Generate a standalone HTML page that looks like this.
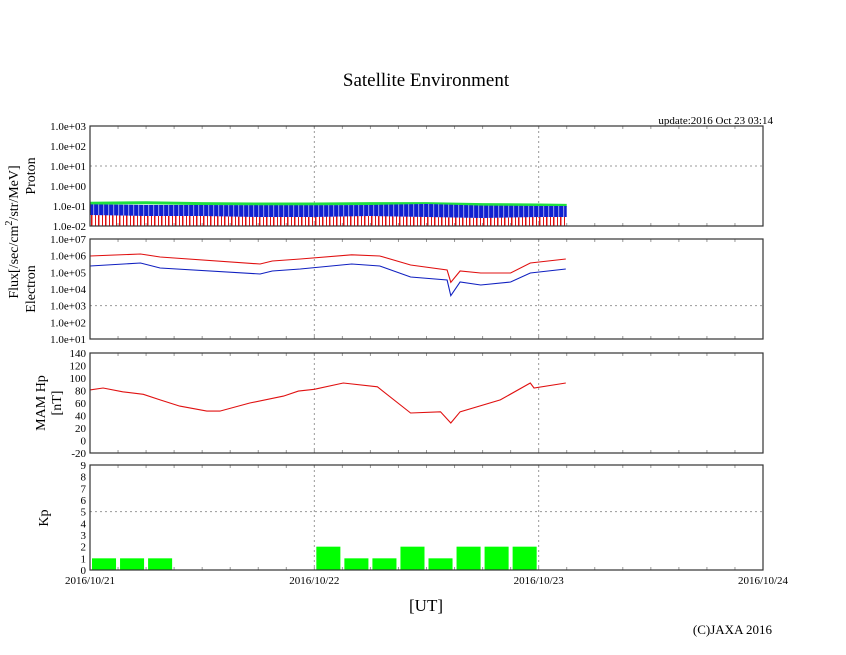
<!DOCTYPE html>
<html><head><meta charset="utf-8"><style>
body{margin:0;background:#fff;}
svg{display:block;font-family:"Liberation Serif",serif;}
</style></head><body>
<svg id="chart" width="846" height="655" viewBox="0 0 846 655">
<text x="426" y="86" font-size="19" text-anchor="middle">Satellite Environment</text>
<text x="773" y="124" font-size="11" text-anchor="end">update:2016 Oct 23 03:14</text>
<text x="426" y="611" font-size="17" text-anchor="middle">[UT]</text>
<text x="772" y="634" font-size="13" text-anchor="end">(C)JAXA 2016</text>
<text transform="translate(18,232) rotate(-90)" font-size="14" text-anchor="middle">Flux[/sec/cm<tspan font-size="10" dy="-6">2</tspan><tspan dy="6">/str/MeV]</tspan></text>
<text transform="translate(35,176) rotate(-90)" font-size="14" text-anchor="middle">Proton</text>
<text transform="translate(35,289) rotate(-90)" font-size="14" text-anchor="middle">Electron</text>
<text transform="translate(45,403) rotate(-90)" font-size="14" text-anchor="middle">MAM Hp</text>
<text transform="translate(61,403) rotate(-90)" font-size="14" text-anchor="middle">[nT]</text>
<text transform="translate(48,518) rotate(-90)" font-size="14" text-anchor="middle">Kp</text>
<g id="g"></g>
</svg>
<script>
// ---- data ----
const dayLabels = ["2016/10/21","2016/10/22","2016/10/23","2016/10/24"];
const protonTicks = ["1.0e-02","1.0e-01","1.0e+00","1.0e+01","1.0e+02","1.0e+03"];
const electronTicks = ["1.0e+01","1.0e+02","1.0e+03","1.0e+04","1.0e+05","1.0e+06","1.0e+07"];
const mamTicks = [-20,0,20,40,60,80,100,120,140];
const kpTicks = [0,1,2,3,4,5,6,7,8,9];
// proton envelopes (log10), hours
const protonHours = [0,6,12,18,24,30,36,42,48,51.0];
const protonGreen = [-0.86,-0.84,-0.88,-0.9,-0.9,-0.88,-0.88,-0.93,-0.95,-0.97];
const protonBlueTop = [-0.92,-0.95,-0.95,-0.96,-0.96,-0.95,-0.9,-0.98,-1.0,-1.0];
const protonBlueBot = [-1.45,-1.5,-1.5,-1.55,-1.55,-1.5,-1.55,-1.6,-1.55,-1.55];
const protonRedTop = [-1.35,-1.4,-1.4,-1.45,-1.45,-1.45,-1.4,-1.45,-1.45,-1.45];
// electron (log10)
const elHours = [0,5.4,7.5,18.2,19.5,22.5,28,31,34.3,38.2,38.6,39.6,41.8,45,47.1,50.9];
const elRed = [5.98,6.1,5.92,5.5,5.68,5.8,6.05,5.98,5.44,5.14,4.4,5.08,4.96,4.96,5.56,5.8];
const elBlue = [5.38,5.56,5.26,4.9,5.08,5.2,5.5,5.38,4.72,4.54,3.6,4.42,4.24,4.42,4.96,5.2];
// MAM Hp (nT)
const mamHours = [0,1.4,3.5,5.7,7.5,9.6,12.5,13.9,17.1,20.7,22.3,24,27.1,30.75,34.3,37.5,38.6,39.6,43.9,47.1,47.5,50.9];
const mamVals = [81,84,78,74,65,55,47,47,60,71,79,82,92,86,44,46,28,46,65,92,84,92];
// Kp, 3-hour bins starting at 10/21 00UT (null = missing)
const kpVals = [1,1,1,null,null,null,null,null,2,1,1,2,1,2,2,2];

const g = document.getElementById('g');
const NS = "http://www.w3.org/2000/svg";
const X0 = 90, X1 = 763;
const x = h => X0 + h * (X1 - X0) / 72;
function el(tag, attrs){ const e = document.createElementNS(NS, tag); for (const k in attrs) e.setAttribute(k, attrs[k]); g.appendChild(e); return e; }
const panels = [
  {name:"proton", top:126, bot:226, min:-2, max:3},
  {name:"electron", top:239, bot:339, min:1, max:7},
  {name:"mam", top:353, bot:453, min:-20, max:140},
  {name:"kp", top:465, bot:570, min:0, max:9}
];
function yf(p){ return v => p.bot - (v - p.min) * (p.bot - p.top) / (p.max - p.min); }
function frame(p, ticks, labels, gridVal){
  const y = yf(p);
  [1,2].forEach(d=>{ const l = el('line',{x1:x(d*24),x2:x(d*24),y1:p.top,y2:p.bot,stroke:'#999','stroke-dasharray':'2,3'});
    
     });
  if (gridVal!==null){ const l = el('line',{x1:X0,x2:X1,y1:y(gridVal),y2:y(gridVal),stroke:'#999','stroke-dasharray':'2,3'});
    
     }
  for (let h=3; h<72; h+=3){ el('line',{x1:x(h),x2:x(h),y1:p.top,y2:p.top+3,stroke:'#999'}); el('line',{x1:x(h),x2:x(h),y1:p.bot,y2:p.bot-3,stroke:'#999'}); }
  ticks.forEach((v,i)=>{ const t = el('text',{x:X0-4,y:y(v)+4,'font-size':11,'text-anchor':'end'}); t.textContent = labels[i];
    
     });
}
function outline(p){ const r = el('rect',{x:X0,y:p.top,width:X1-X0,height:p.bot-p.top,fill:'none',stroke:'#333','stroke-width':1.2});
  
   }
function pathOf(hs, vs, y){ return hs.map((h,i)=>(i?'L':'M')+x(h).toFixed(1)+','+y(vs[i]).toFixed(1)).join(''); }

// proton
let p = panels[0], y = yf(p);
frame(p, [-2,-1,0,1,2,3], protonTicks, 1);
let defs = document.createElementNS(NS,'defs');
defs.innerHTML = '<pattern id="sp" width="7" height="10" patternUnits="userSpaceOnUse"><rect width="1.5" height="10" fill="#e01010"/><rect x="4" width="1" height="10" fill="#e01010"/></pattern><pattern id="bp" width="5" height="10" patternUnits="userSpaceOnUse"><rect width="5" height="10" fill="#1020d0"/><rect x="3" width="1.2" height="10" fill="#fff" opacity="0.5"/></pattern>';
g.appendChild(defs);
function band(hs, top, botv, fill, name){
  const d = pathOf(hs, top, y) + hs.slice().reverse().map((h,i)=>'L'+x(h).toFixed(1)+','+y(botv[hs.length-1-i]).toFixed(1)).join('') + 'Z';
  const e = el('path',{d:d, fill:fill});
  
  
}
const gl = el('path',{d:pathOf(protonHours, protonGreen, y), fill:'none', stroke:'#20e040','stroke-width':3});


band(protonHours, protonRedTop, protonHours.map(()=>-2), 'url(#sp)', 'proton-red-series');
band(protonHours, protonBlueTop, protonBlueBot, 'url(#bp)', 'proton-blue-series');
outline(p);

// electron
p = panels[1]; y = yf(p);
frame(p, [1,2,3,4,5,6,7], electronTicks, 3);
let l1 = el('path',{d:pathOf(elHours, elRed, y), fill:'none', stroke:'#e01010','stroke-width':1.1});


let l2 = el('path',{d:pathOf(elHours, elBlue, y), fill:'none', stroke:'#1020c0','stroke-width':1.1});


outline(p);

// mam
p = panels[2]; y = yf(p);
frame(p, mamTicks, mamTicks.map(String), null);
let l3 = el('path',{d:pathOf(mamHours, mamVals, y), fill:'none', stroke:'#e01010','stroke-width':1.1});


outline(p);

// kp
p = panels[3]; y = yf(p);
frame(p, kpTicks, kpTicks.map(String), 5);
kpVals.forEach((v,i)=>{ if (v===null) return;
  const b = el('rect',{x:x(i*3)+2, y:y(v), width:x(3)-x(0)-4, height:y(0)-y(v), fill:'#00ff00'});
  
   });
outline(p);

// x labels
dayLabels.forEach((s,i)=>{ const t = el('text',{x:x(i*24), y:584, 'font-size':11, 'text-anchor':'middle'}); t.textContent = s;
  
   });
</script>
</body></html>
